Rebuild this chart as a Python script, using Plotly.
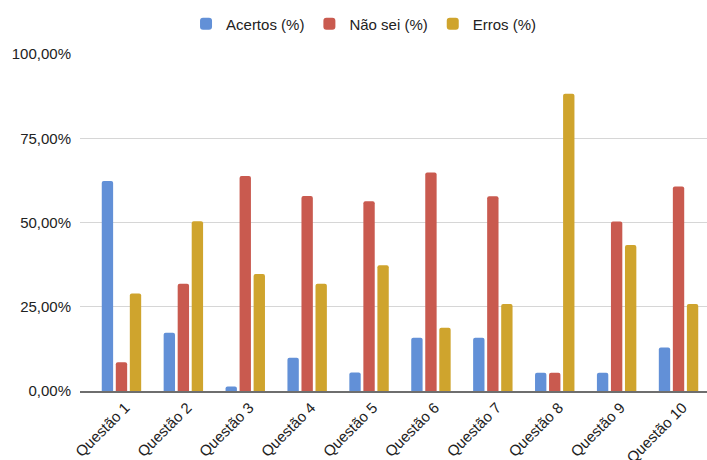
import plotly.graph_objects as go

categories = ["Questão 1", "Questão 2", "Questão 3", "Questão 4", "Questão 5",
              "Questão 6", "Questão 7", "Questão 8", "Questão 9", "Questão 10"]
acertos = [62.3, 17.3, 1.3, 9.9, 5.5, 15.8, 15.8, 5.4, 5.4, 12.9]
nao_sei = [8.5, 31.8, 63.8, 57.9, 56.3, 64.8, 57.8, 5.4, 50.3, 60.7]
erros = [28.9, 50.4, 34.7, 31.8, 37.3, 18.8, 25.8, 88.2, 43.3, 25.8]

series_names = ["Acertos (%)", "Não sei (%)", "Erros (%)"]
colors = ["#6290D7", "#C95A4F", "#CFA42D"]

y_ticks = [0, 25, 50, 75, 100]
y_tick_labels = ["0,00%", "25,00%", "50,00%", "75,00%", "100,00%"]

FONT = "Liberation Sans, Arial, sans-serif"

fig = go.Figure()
for name, vals, col in zip(series_names, [acertos, nao_sei, erros], colors):
    fig.add_trace(go.Bar(
        x=list(range(len(categories))), y=vals, name=name,
        marker=dict(color=col, line=dict(width=0)),
        hovertemplate="%{y:.2f}%<extra>" + name + "</extra>",
    ))

fig.update_layout(
    width=707, height=460,
    margin=dict(l=80, r=0, t=54, b=69, autoexpand=False),
    paper_bgcolor="white", plot_bgcolor="white",
    barmode="group", bargap=0.32, bargroupgap=0.19,
    barcornerradius=2,
    font=dict(family=FONT, size=15, color="#222222"),
    legend=dict(orientation="h", x=0.453, xanchor="center", y=0.948, yanchor="middle",
                yref="container", font=dict(size=15, color="#222222"),
                itemwidth=30, traceorder="normal"),
    xaxis=dict(
        tickmode="array", tickvals=list(range(len(categories))), ticktext=categories,
        tickangle=-45, range=[-0.67, 9.46], showgrid=False, zeroline=False,
        showline=True, linecolor="#6e6e6e", linewidth=2, ticks="",
        ticklabelshift=4,
        tickfont=dict(size=15, color="#222222"), fixedrange=True,
    ),
    yaxis=dict(
        range=[0, 100], tickmode="array", tickvals=y_ticks, ticktext=y_tick_labels,
        showgrid=True, gridcolor="#d6d6d6", gridwidth=1, zeroline=False,
        showline=False, ticks="", ticklabelstandoff=8,
        tickfont=dict(size=15, color="#222222"), fixedrange=True,
    ),
)

fig.write_html("out.html")
